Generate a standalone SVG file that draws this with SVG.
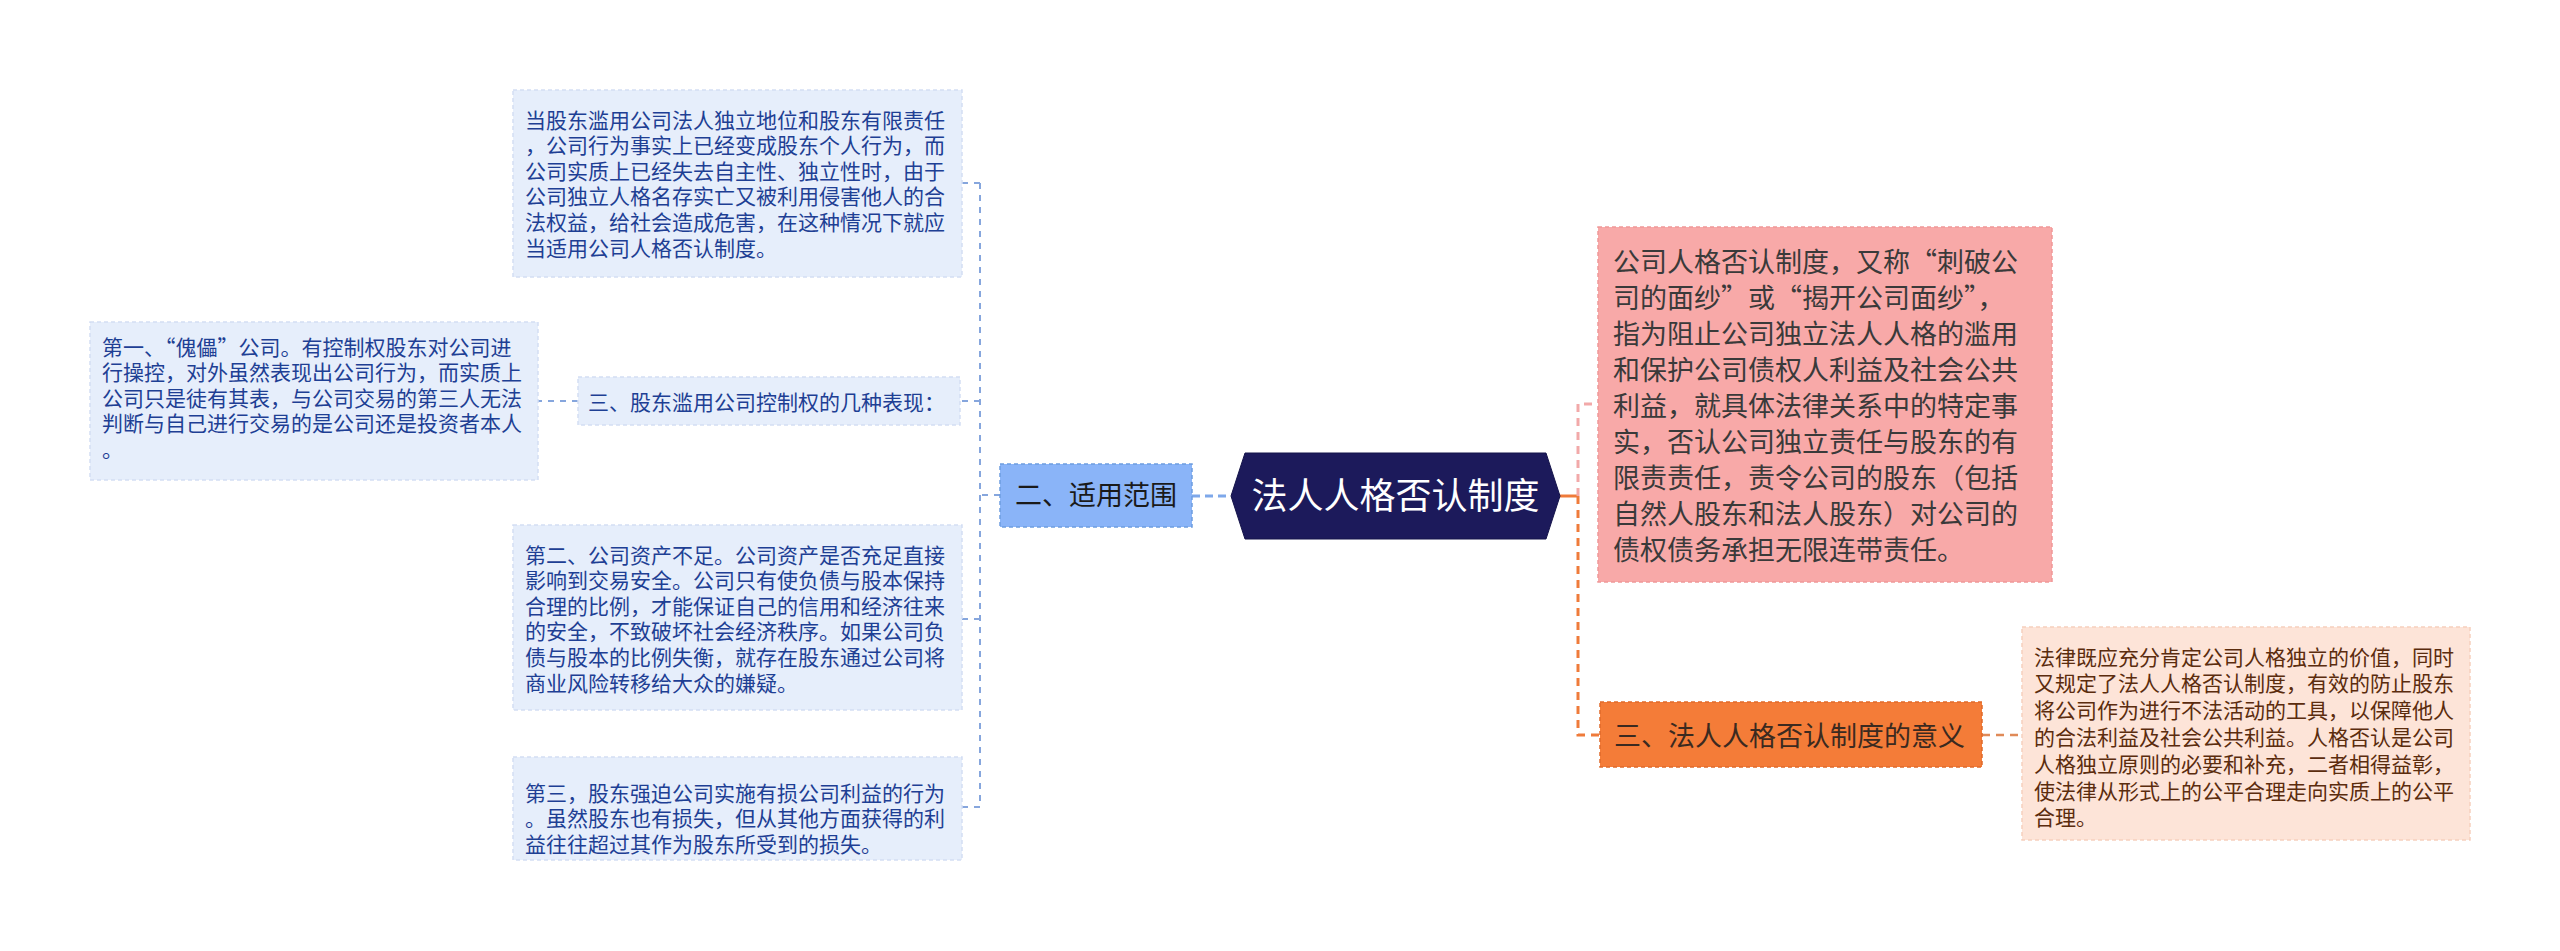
<svg xmlns="http://www.w3.org/2000/svg" width="2560" height="951" viewBox="0 0 2560 951">
<style>
text{font-family:"Noto Sans CJK SC","Noto Sans",sans-serif;font-feature-settings:"fwid" 1;}
.bx{fill:#e6eefb;stroke:#d3def4;stroke-width:1.5;stroke-dasharray:4 3;}
.bt{font-size:21px;fill:#1e3f94;}
.lc{fill:none;stroke:#86a6dd;stroke-width:2;stroke-dasharray:6 6;}
.pk{fill:#f8a9a8;stroke:#ef9898;stroke-width:1.5;stroke-dasharray:4 3;}
.pt{font-size:27px;fill:#3a3a3a;}
.pc{fill:#fde4d8;stroke:#f6d0bd;stroke-width:1.5;stroke-dasharray:4 3;}
.ct{font-size:21px;fill:#5b2c0e;}
</style>
<rect width="2560" height="951" fill="#ffffff"/>
<g id="connectors">
<path class="lc" d="M1000,495 H980"/>
<path class="lc" d="M980,183 V807"/>
<path class="lc" d="M980,183 H962"/>
<path class="lc" d="M980,401 H960"/>
<path class="lc" d="M980,619 H962"/>
<path class="lc" d="M980,807 H962"/>
<path class="lc" d="M578,401 H538"/>
<path d="M1192,496 H1231" fill="none" stroke="#7ea8ea" stroke-width="3" stroke-dasharray="8 5"/>
<path d="M1560,496 H1578" fill="none" stroke="#ef7b3a" stroke-width="3"/>
<path d="M1578,496 V735 H1600" fill="none" stroke="#ef7b3a" stroke-width="3" stroke-dasharray="8 6"/>
<path d="M1578,496 V404 H1598" fill="none" stroke="#f2a9a9" stroke-width="3" stroke-dasharray="8 6"/>
<path d="M1982,735 H2022" fill="none" stroke="#e08a58" stroke-width="2.5" stroke-dasharray="8 6"/>
</g>
<g id="root">
<polygon points="1231,496 1245,453 1546,453 1560,496 1546,539 1245,539" fill="#1c1a5b" stroke="#15144a" stroke-width="1"/>
<text x="1395.5" y="509" font-size="36" fill="#ffffff" text-anchor="middle">法人人格否认制度</text>
</g>
<g id="branch-scope">
<rect x="1000" y="464" width="192" height="63" fill="#8ab4f8" stroke="#6e9de0" stroke-width="1.5" stroke-dasharray="4 3"/>
<text x="1015" y="504.7" font-size="27" fill="#1a1a1a">二、适用范围</text>
</g>
<g id="leaf-abuse">
<rect class="bx" x="513" y="90" width="449" height="187"/>
<text class="bt">
<tspan x="525" y="127.6">当股东滥用公司法人独立地位和股东有限责任</tspan>
<tspan x="525" y="153.2">，公司行为事实上已经变成股东个人行为，而</tspan>
<tspan x="525" y="178.8">公司实质上已经失去自主性、独立性时，由于</tspan>
<tspan x="525" y="204.4">公司独立人格名存实亡又被利用侵害他人的合</tspan>
<tspan x="525" y="230">法权益，给社会造成危害，在这种情况下就应</tspan>
<tspan x="525" y="255.6">当适用公司人格否认制度。</tspan>
</text>
</g>
<g id="sub-forms">
<rect class="bx" x="578" y="377" width="382" height="48"/>
<text class="bt" x="588" y="409.6">三、股东滥用公司控制权的几种表现：</text>
</g>
<g id="leaf-puppet">
<rect class="bx" x="90" y="322" width="448" height="158"/>
<text class="bt">
<tspan x="102" y="354.6">第一、“傀儡”公司。有控制权股东对公司进</tspan>
<tspan x="102" y="380.2">行操控，对外虽然表现出公司行为，而实质上</tspan>
<tspan x="102" y="405.8">公司只是徒有其表，与公司交易的第三人无法</tspan>
<tspan x="102" y="431.4">判断与自己进行交易的是公司还是投资者本人</tspan>
<tspan x="102" y="457">。</tspan>
</text>
</g>
<g id="leaf-capital">
<rect class="bx" x="513" y="525" width="449" height="185"/>
<text class="bt">
<tspan x="525" y="562.6">第二、公司资产不足。公司资产是否充足直接</tspan>
<tspan x="525" y="588.2">影响到交易安全。公司只有使负债与股本保持</tspan>
<tspan x="525" y="613.8">合理的比例，才能保证自己的信用和经济往来</tspan>
<tspan x="525" y="639.4">的安全，不致破坏社会经济秩序。如果公司负</tspan>
<tspan x="525" y="665">债与股本的比例失衡，就存在股东通过公司将</tspan>
<tspan x="525" y="690.6">商业风险转移给大众的嫌疑。</tspan>
</text>
</g>
<g id="leaf-coerce">
<rect class="bx" x="513" y="757" width="449" height="103"/>
<text class="bt">
<tspan x="525" y="800.6">第三，股东强迫公司实施有损公司利益的行为</tspan>
<tspan x="525" y="826.2">。虽然股东也有损失，但从其他方面获得的利</tspan>
<tspan x="525" y="851.8">益往往超过其作为股东所受到的损失。</tspan>
</text>
</g>
<g id="definition">
<rect class="pk" x="1598" y="227" width="454" height="355"/>
<text class="pt">
<tspan x="1613" y="272.2">公司人格否认制度，又称“刺破公</tspan>
<tspan x="1613" y="308.2">司的面纱”或“揭开公司面纱”，</tspan>
<tspan x="1613" y="344.2">指为阻止公司独立法人人格的滥用</tspan>
<tspan x="1613" y="380.2">和保护公司债权人利益及社会公共</tspan>
<tspan x="1613" y="416.2">利益，就具体法律关系中的特定事</tspan>
<tspan x="1613" y="452.2">实，否认公司独立责任与股东的有</tspan>
<tspan x="1613" y="488.2">限责责任，责令公司的股东（包括</tspan>
<tspan x="1613" y="524.2">自然人股东和法人股东）对公司的</tspan>
<tspan x="1613" y="560.2">债权债务承担无限连带责任。</tspan>
</text>
</g>
<g id="branch-meaning">
<rect x="1600" y="702" width="382" height="65" fill="#f47c38" stroke="#df6a2a" stroke-width="1.5" stroke-dasharray="4 3"/>
<text x="1614" y="745.7" font-size="27" fill="#3b2a20">三、法人人格否认制度的意义</text>
</g>
<g id="leaf-meaning">
<rect class="pc" x="2022" y="627" width="448" height="213"/>
<text class="ct">
<tspan x="2034" y="664.6">法律既应充分肯定公司人格独立的价值，同时</tspan>
<tspan x="2034" y="691.4">又规定了法人人格否认制度，有效的防止股东</tspan>
<tspan x="2034" y="718.2">将公司作为进行不法活动的工具，以保障他人</tspan>
<tspan x="2034" y="745">的合法利益及社会公共利益。人格否认是公司</tspan>
<tspan x="2034" y="771.8">人格独立原则的必要和补充，二者相得益彰，</tspan>
<tspan x="2034" y="798.6">使法律从形式上的公平合理走向实质上的公平</tspan>
<tspan x="2034" y="825.4">合理。</tspan>
</text>
</g>
</svg>
